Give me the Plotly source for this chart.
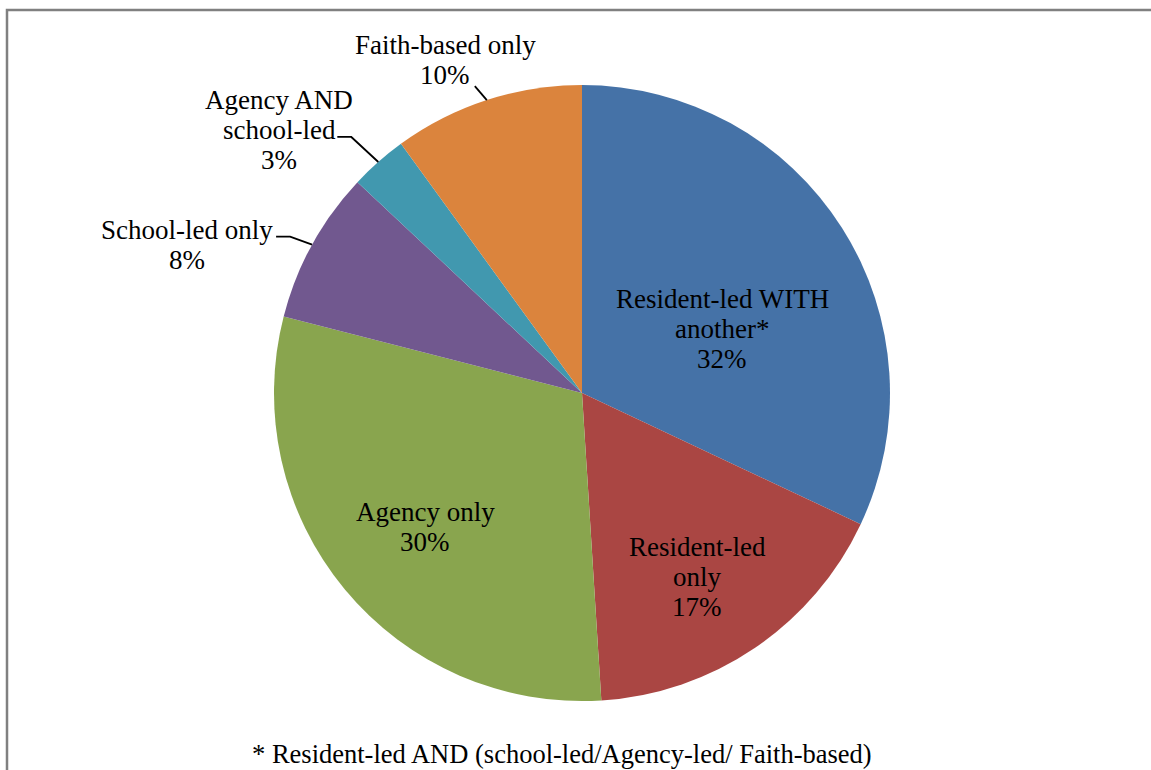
import math
import plotly.graph_objects as go

# ---- data ----
categories = ["Resident-led WITH another*", "Resident-led only", "Agency only",
              "School-led only", "Agency AND school-led", "Faith-based only"]
values = [32, 17, 30, 8, 3, 10]
label_lines = [
    ["Resident-led WITH", "another*", "32%"],
    ["Resident-led", "only", "17%"],
    ["Agency only", "30%"],
    ["School-led only", "8%"],
    ["Agency AND", "school-led", "3%"],
    ["Faith-based only", "10%"],
]
footnote = "* Resident-led AND (school-led/Agency-led/ Faith-based)"

# ---- style / layout ----
W, H = 1151, 770
colors = ["#4572A7", "#AA4643", "#89A54E", "#71588F", "#4198AF", "#DB843D"]
CX, CY, R = 582, 393, 308          # pie centre and radius in pixels
FONT = "Liberation Serif"
FS = 27
LINE_H = 30
# label centre positions (pixels)
label_pos = [(722, 329), (697, 577), (425, 527), (187, 245), (279, 130), (445, 60)]
# leader line tails as offsets from rim point (None = no leader)
leaders = [None, None, None,
           [(-36, -8), (-22, -8)],
           [(-41, -25), (-27, -25)],
           [(-12, -14)]]

def px(x):
    return x / W

def py(y):
    return 1 - y / H

fig = go.Figure(go.Pie(
    labels=categories, values=values, sort=False, direction="clockwise",
    rotation=0, marker=dict(colors=colors, line=dict(width=0)),
    textinfo="none", hoverinfo="label+percent", showlegend=False,
    domain=dict(x=[px(CX - R), px(CX + R)], y=[py(CY + R), py(CY - R)]),
))

annotations = []
shapes = []
total = sum(values)
cum = 0
for i, v in enumerate(values):
    mid = (cum + v / 2) / total * 2 * math.pi
    cum += v
    rim = (CX + R * math.sin(mid), CY - R * math.cos(mid))
    lx, ly = label_pos[i]
    n = len(label_lines[i])
    for j, t in enumerate(label_lines[i]):
        yy = ly + (j - (n - 1) / 2) * LINE_H
        annotations.append(dict(x=px(lx), y=py(yy), xref="paper", yref="paper",
                                text=t, showarrow=False, xanchor="center", yanchor="middle",
                                font=dict(family=FONT, size=FS, color="black")))
    if leaders[i]:
        pts = [(rim[0] + dx, rim[1] + dy) for dx, dy in leaders[i]] + [rim]
        path = "M " + " L ".join(f"{px(a)},{py(b)}" for a, b in pts)
        shapes.append(dict(type="path", path=path, xref="paper", yref="paper",
                           line=dict(color="black", width=1.8)))

annotations.append(dict(x=px(562), y=py(754), xref="paper", yref="paper", text=footnote,
                        showarrow=False, xanchor="center", yanchor="middle",
                        font=dict(family=FONT, size=26.5, color="black")))

# outer frame
shapes.append(dict(type="rect", xref="paper", yref="paper",
                   x0=px(7), x1=1.02, y0=-0.02, y1=py(10),
                   line=dict(color="#808080", width=2.5), fillcolor="rgba(0,0,0,0)"))

fig.update_layout(width=W, height=H, margin=dict(l=0, r=0, t=0, b=0),
                  paper_bgcolor="white", plot_bgcolor="white",
                  font=dict(family=FONT),
                  annotations=annotations, shapes=shapes)

fig.write_html("out.html")
